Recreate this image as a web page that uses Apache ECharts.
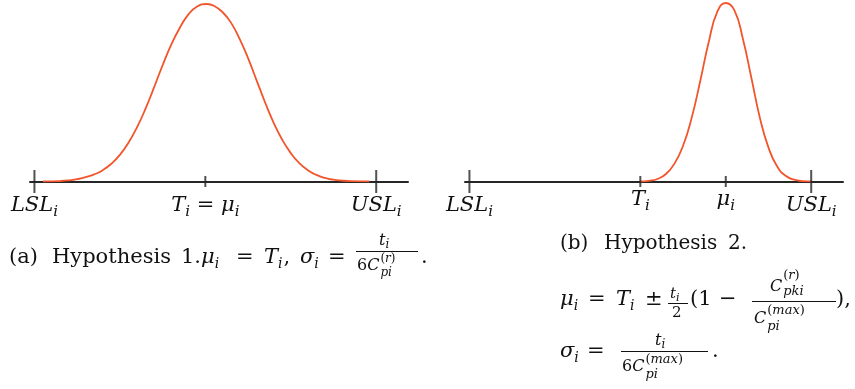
<!DOCTYPE html>
<html>
<head>
<meta charset="utf-8">
<script src="https://cdn.jsdelivr.net/npm/echarts@6/dist/echarts.min.js"></script>
<style>
html, body { margin: 0; background: #fff; }
#main { width: 855px; height: 389px; }
</style>
</head>
<body>
<div id="main"></div>
<script>
// spec axis runs LSL = 0 .. USL = 10 in both panels, curve heights scaled to peak = 1

// (a) hypothesis 1: mean on target
const ticksA = [0, 5, 10]
const tickNamesA = ['LSL_i', 'T_i = μ_i', 'USL_i']
const curveAX = [0.25, 0.75, 1.0, 1.25, 1.5, 1.75, 2.0, 2.25, 2.5, 2.75, 3.0, 3.25, 3.5, 3.75, 4.0, 4.25, 4.5, 4.75, 5.05, 5.25, 5.5, 5.75, 6.0, 6.25, 6.5, 6.75, 7.0, 7.25, 7.5, 7.75, 8.0, 8.25, 8.5, 8.75, 9.0, 9.25, 9.8]
const curveAY = [0, 0.0025, 0.006, 0.013, 0.024, 0.04, 0.064, 0.10, 0.15, 0.218, 0.305, 0.41, 0.53, 0.655, 0.77, 0.865, 0.94, 0.985, 1.0, 0.99, 0.955, 0.895, 0.805, 0.695, 0.57, 0.445, 0.33, 0.235, 0.16, 0.103, 0.064, 0.037, 0.02, 0.01, 0.005, 0.002, 0]

// (b) hypothesis 2: mean shifted towards USL, narrower spread
const ticksB = [0, 5, 7.5, 10]
const tickNamesB = ['LSL_i', 'T_i', 'μ_i', 'USL_i']
const curveBX = [5.0, 5.25, 5.5, 5.75, 6.0, 6.25, 6.5, 6.75, 7.0, 7.25, 7.5, 7.75, 8.0, 8.25, 8.5, 8.75, 9.0, 9.25, 9.5, 9.75, 10.0]
const curveBY = [0, 0.004, 0.014, 0.042, 0.10, 0.20, 0.355, 0.56, 0.78, 0.95, 1.0, 0.96, 0.80, 0.58, 0.355, 0.19, 0.085, 0.032, 0.010, 0.002, 0]

const INK = '#111111'
const AXIS = '#262626'
const CURVE = '#f2552c'

function zip(xs, ys) {
  return xs.map((x, i) => [x, ys[i]])
}

function tickData(ticks) {
  // first and last tick are the spec limits (long ticks)
  return ticks.map((v, i) => ({
    value: [v, 0],
    symbolSize: (i === 0 || i === ticks.length - 1) ? [2, 23] : [2, 11]
  }))
}

const option = {
  animation: false,
  grid: [
    { left: 30, width: 378, top: 4, bottom: 207.5 },
    { left: 465, width: 378, top: 3, bottom: 207.5 }
  ],
  xAxis: [0, 1].map(i => ({
    type: 'value',
    gridIndex: i,
    min: -0.13,
    max: 10.93,
    axisLine: { show: true, lineStyle: { color: AXIS, width: 2 } },
    axisTick: { show: false },
    axisLabel: { show: false },
    splitLine: { show: false }
  })),
  yAxis: [0, 1].map(i => ({
    type: 'value',
    gridIndex: i,
    min: 0,
    max: 1,
    show: false
  })),
  series: [
    {
      type: 'line', xAxisIndex: 0, yAxisIndex: 0,
      data: zip(curveAX, curveAY),
      smooth: 0.5, symbol: 'none',
      lineStyle: { color: CURVE, width: 1.8 }, z: 3
    },
    {
      type: 'line', xAxisIndex: 1, yAxisIndex: 1,
      data: zip(curveBX, curveBY),
      smooth: 0.5, symbol: 'none',
      lineStyle: { color: CURVE, width: 1.8 }, z: 3
    },
    {
      type: 'scatter', xAxisIndex: 0, yAxisIndex: 0,
      data: tickData(ticksA), symbol: 'rect', clip: false,
      itemStyle: { color: AXIS }, z: 4
    },
    {
      type: 'scatter', xAxisIndex: 1, yAxisIndex: 1,
      data: tickData(ticksB), symbol: 'rect', clip: false,
      itemStyle: { color: AXIS }, z: 4
    }
  ]
}

const chart = echarts.init(document.getElementById('main'))
chart.setOption(option)

// ---- text: typeset by hand with DejaVu Serif ----
const ctx = document.createElement('canvas').getContext('2d')
const FAMILY = '"DejaVu Serif", serif'
function measure(s, size, it) {
  ctx.font = (it ? 'italic ' : '') + size + 'px ' + FAMILY
  return ctx.measureText(s).width
}
const els = []
function put(x, base, s, size, it) {
  els.push({
    type: 'text', x: x, y: base - 0.35 * size, silent: true,
    style: {
      text: s, fill: INK, fontSize: size, fontFamily: FAMILY,
      fontStyle: it ? 'italic' : 'normal', verticalAlign: 'middle', align: 'left'
    }
  })
  return x + measure(s, size, it)
}
const isLetter = ch => /[A-Za-z\u03b1-\u03c9]/.test(ch)
// letters italic, everything else upright
function math(x, base, s, size) {
  for (const ch of s) x = put(x, base, ch, size, isLetter(ch))
  return x
}
function bar(x1, x2, y) {
  els.push({ type: 'rect', silent: true, shape: { x: x1, y: y, width: x2 - x1, height: 1 }, style: { fill: INK } })
}

// tick labels: "A_b" means b is a subscript, centred on the tick
function tickLabel(cx, base, name, size) {
  const sub = Math.round(size * 0.7)
  const toks = []
  for (let i = 0; i < name.length; i++) {
    if (name[i] === '_') toks.push([name[++i], true])
    else toks.push([name[i], false])
  }
  const total = toks.reduce((a, t) => a + (t[1] ? measure(t[0], sub, true) : measure(t[0], size, isLetter(t[0]))), 0)
  let x = cx - total / 2
  toks.forEach(t => {
    x = t[1] ? put(x, base + 4, t[0], sub, true) : put(x, base, t[0], size, isLetter(t[0]))
  })
}

ticksA.forEach((v, i) => {
  tickLabel(chart.convertToPixel({ xAxisIndex: 0 }, v), 213, tickNamesA[i], 21)
})
ticksB.forEach((v, i) => {
  const edge = i === 0 || i === ticksB.length - 1
  tickLabel(chart.convertToPixel({ xAxisIndex: 1 }, v), edge ? 213 : 207, tickNamesB[i], 21)
})

// caption (a)
let x
put(9, 265, '(a)', 21, false)
put(52, 265, 'Hypothesis', 21, false)
x = put(181, 265, '1.', 21, false)
x = put(x, 265, 'μ', 21, true); put(x, 269, 'i', 14, true)
put(236, 265, '=', 21, false)
x = put(264, 265, 'T', 21, true); x = put(x, 269, 'i', 14, true); put(x + 1, 265, ',', 21, false)
x = put(300, 265, 'σ', 21, true); put(x, 269, 'i', 14, true)
put(328, 265, '=', 21, false)
bar(356, 418, 251)
x = put(379, 246, 't', 16, true); put(x, 249, 'i', 12, true)
x = put(357, 271, '6', 16, false); x = put(x, 271, 'C', 16, true)
math(x + 1, 263, '(r)', 12); math(x + 1, 277, 'pi', 12)
put(421, 265, '.', 21, false)

// caption (b)
put(560, 251, '(b)', 20, false)
put(604, 251, 'Hypothesis', 20, false)
put(728, 251, '2.', 20, false)

x = put(560, 307, 'μ', 21, true); put(x, 311, 'i', 14, true)
put(588, 307, '=', 21, false)
x = put(616, 307, 'T', 21, true); put(x, 311, 'i', 14, true)
put(645, 307, '±', 21, false)
x = put(670, 299, 't', 15, true); put(x, 302, 'i', 11, true)
bar(668, 688, 303)
put(672, 318, '2', 15, false)
put(690, 307, '(1', 21, false)
put(719, 307, '−', 21, false)
bar(752, 836, 301)
x = put(770, 292, 'C', 16, true); math(x + 1, 280, '(r)', 13); math(x + 1, 296, 'pki', 13)
x = put(754, 324, 'C', 16, true); math(x + 1, 315, '(max)', 13); math(x + 1, 331, 'pi', 13)
put(836, 307, '),', 21, false)

x = put(560, 359, 'σ', 21, true); put(x, 363, 'i', 14, true)
put(587, 359, '=', 21, false)
bar(621, 708, 351)
x = put(655, 346, 't', 16, true); put(x, 349, 'i', 12, true)
x = put(622, 372, '6', 16, false); x = put(x, 372, 'C', 16, true)
math(x + 1, 364, '(max)', 13); math(x + 1, 379, 'pi', 13)
put(712, 359, '.', 21, false)

chart.setOption({ graphic: els })
</script>
</body>
</html>
